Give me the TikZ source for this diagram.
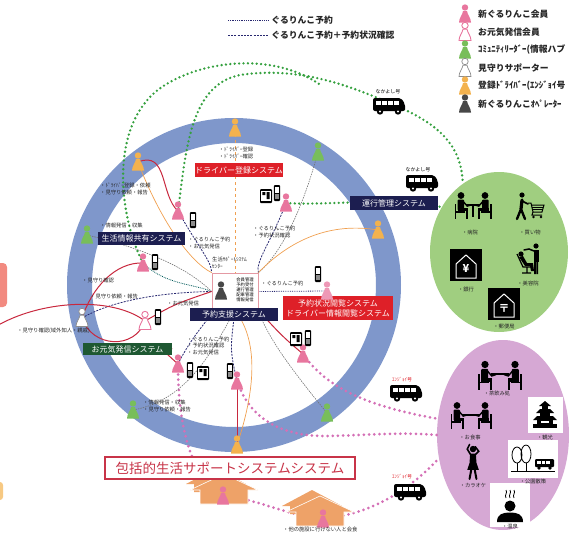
\documentclass[tikz,border=0pt]{standalone}
\usepackage{fontspec}
\setmainfont{Noto Sans CJK JP}
\usetikzlibrary{positioning,shapes.geometric}

\definecolor{ringblue}{RGB}{127,151,203}
\definecolor{hubgreen}{RGB}{120,190,90}
\definecolor{shopgreen}{RGB}{160,206,128}
\definecolor{funpurple}{RGB}{214,168,212}
\definecolor{memberpink}{RGB}{232,118,158}
\definecolor{driverorange}{RGB}{243,178,78}
\definecolor{housetone}{RGB}{238,162,104}
\definecolor{sysnavy}{RGB}{28,30,80}
\definecolor{sysred}{RGB}{222,32,40}
\definecolor{sysgreen}{RGB}{30,88,50}
\definecolor{linkred}{RGB}{200,40,62}
\definecolor{linknavy}{RGB}{40,40,112}
\definecolor{linkorange}{RGB}{240,160,80}
\definecolor{dotgreen}{RGB}{52,160,62}
\definecolor{dotpink}{RGB}{212,112,182}
\definecolor{boxrose}{RGB}{200,52,72}
\definecolor{tabsalmon}{RGB}{242,138,128}

\pgfdeclarelayer{back}
\pgfsetlayers{back,main}

\tikzset{
  % pawn shaped member figure, #1 picks its colours
  person/.pic={
    \path[#1] (0,-6.5) circle (3.2);
    \path[#1] (-2,-2.8) .. controls (-2.6,1) and (-6,4) .. (-6,8.5)
      -- (6,8.5) .. controls (6,4) and (2.6,1) .. (2,-2.8) -- cycle;
  },
  phone/.pic={
    \fill[black,rounded corners=1pt] (-3.2,-8) rectangle (3.2,8);
    \fill[white] (-2,-6) rectangle (2,-0.5);
    \fill[black!45] (-2,1) rectangle (2,6);
  },
  tablet/.pic={
    \fill[black,rounded corners=1pt] (-6,-7) rectangle (6,7);
    \fill[white] (-4.6,-5.5) rectangle (4.6,4.5);
    \fill[black] (-3.6,-4) rectangle (-0.6,-1) (0.6,-4) rectangle (3.6,3);
  },
  van/.pic={
    \fill[black,rounded corners=2pt] (-16,-7) -- (12,-7) -- (16,-1) -- (16,6) -- (-16,6) -- cycle;
    \foreach \wx in {-13,-7,-1,5}{\fill[white] (\wx,-4.5) rectangle ++(4.5,4);}
    \fill[black] (-9,6.5) circle (3.2) (9,6.5) circle (3.2);
    \fill[white] (-9,6.5) circle (1.2) (9,6.5) circle (1.2);
  },
  sitter/.pic={
    \fill (0,-10) circle (2.7);
    \fill[rounded corners=1pt] (-2.8,-6.8) rectangle (2.4,2);
    \fill (-2.8,0) rectangle (5.5,2.6);
    \fill (3.8,0.5) rectangle (5.5,9);
    \fill (-5.2,-3) rectangle (-3.8,9);
    \fill (-5.2,2.6) rectangle (3,3.8);
    \draw[line width=1.4pt,line cap=round] (1.5,-5.5) -- (5,-1.5) -- (8,-2.5);
  },
  shopper/.pic={
    \fill (-8,-12) circle (2.6);
    \draw[line width=3.2pt,line cap=round] (-8,-7) -- (-9,2);
    \draw[line width=2.4pt,line cap=round] (-9,2) -- (-13,12) (-9,2) -- (-5,12);
    \draw[line width=1.6pt,line cap=round] (-8,-6) -- (-2,-3);
    \draw[line width=1pt] (-2,-4) -- (1,-4) -- (3,5) -- (12,5) -- (14,-2) -- (1.5,-2);
    \draw[line width=.7pt] (2,0) -- (13,0) (2.5,2.5) -- (12.5,2.5);
    \draw[line width=1pt] (3,5) -- (2,8) -- (12,8);
    \fill (3.5,10) circle (1.4) (11,10) circle (1.4);
  },
  barber/.pic={
    \fill (-7,-5) circle (2.6);
    \fill (-9,-2) -- (-5,-3) -- (-1,4) -- (5,4) -- (6,12) -- (3,12) -- (2,7) -- (-3,7) -- cycle;
    \draw[line width=1.2pt] (-11,-5) -- (-5,8) -- (4,8) (-1,8) -- (-1,14) (-6,14) -- (3,14);
    \fill (8,-13) circle (2.6);
    \fill (5.5,-9) rectangle (10.5,3);
    \fill (6,3) rectangle (7.8,15) (8.4,3) rectangle (10.2,15);
    \draw[line width=1.5pt,line cap=round] (6,-8) -- (1,-10) -- (-4,-9);
  },
  signbox/.pic={
    \fill[black] (-16,-16) rectangle (16,16);
    \draw[white,line width=1pt] (-10,-1) -- (0,-10) -- (10,-1) -- (10,13) -- (-10,13) -- cycle;
  },
  dancer/.pic={
    \fill (0,-13) circle (2.8);
    \draw[line width=1.6pt,line cap=round] (-2,-8) -- (-5,-13) -- (-3,-17) (2,-8) -- (5,-11) -- (2,-15);
    \fill (-2.5,-9) -- (2.5,-9) -- (3,-1) -- (5,5) -- (-5,5) -- (-3,-1) -- cycle;
    \draw[line width=2pt,line cap=round] (-1.5,5) -- (-3,13) (1.5,5) -- (3,13);
  },
  castle/.pic={
    \fill (-12,10) rectangle (12,14);
    \fill (-8,6) rectangle (8,10);
    \fill (-12,6) -- (-8,2) -- (8,2) -- (12,6) -- cycle;
    \fill (-5,-1) rectangle (5,2);
    \fill (-9,-1) -- (-5,-5) -- (5,-5) -- (9,-1) -- cycle;
    \fill (-3,-8) rectangle (3,-5);
    \fill (-6,-8) -- (0,-13) -- (6,-8) -- cycle;
    \fill[white] (-4,7) rectangle (4,9);
  },
  park/.pic={
    \draw[line width=.8pt] (-16,-3) ellipse (5 and 8) (-7,-4) ellipse (5 and 9);
    \draw[line width=.9pt] (-16,5) -- (-16,13) (-7,5) -- (-7,13) (-22,13) -- (22,13);
    \fill[rounded corners=1pt] (2,1) rectangle (21,9);
    \foreach \wx in {4,8.5,13}{\fill[white] (\wx,2.5) rectangle ++(3.5,3);}
    \fill (6,10) circle (1.8) (17,10) circle (1.8);
  },
  bath/.pic={
    \fill (0,1) circle (5.5);
    \fill (-13,17) .. controls (-13,9) and (-7,7.5) .. (0,7.5) .. controls (7,7.5) and (13,9) .. (13,17) -- cycle;
    \draw[line width=.8pt] (-4,-7) .. controls (-6,-10) and (-2,-12) .. (-4,-15)
      (0,-7) .. controls (-2,-10) and (2,-12) .. (0,-15)
      (4,-7) .. controls (2,-10) and (6,-12) .. (4,-15);
  },
  % two roofs, one behind the other
  house/.pic={
    \fill[housetone] (-38,6) -- (-8,-10) -- (22,6) -- (-22,6) -- (-22,14) -- (-30,14) -- (-30,6) -- cycle;
    \fill[housetone,draw=white,line width=.6pt] (-34,12) -- (0,-4) -- (34,12) -- (24,12) -- (24,26) -- (-24,26) -- (-24,12) -- cycle;
  }
}

\begin{document}
\begin{tikzpicture}
        [%%%%%%%%%%%%%%%%%%%%%%%%%%%%%%
        x=1pt,y=-1pt,
        navybox/.style={fill=sysnavy,text=white,inner sep=0pt,font=\fontsize{8}{9}\selectfont},
        redbox/.style={fill=sysred,text=white,inner sep=0pt,align=center,font=\fontsize{8}{10}\selectfont},
        greenbox/.style={fill=sysgreen,text=white,inner sep=0pt,font=\fontsize{8}{9}\selectfont},
        tiny/.style={inner sep=0pt,align=left,anchor=west,text=black!85,font=\fontsize{5.3}{6.3}\selectfont},
        spot/.style={inner sep=0pt,text=black!85,font=\fontsize{5.3}{6.3}\selectfont},
        legendtext/.style={inner sep=0pt,anchor=west,text=black!85,font=\bfseries\fontsize{8.8}{10}\selectfont},
        vanlabel/.style={inner sep=0pt,font=\fontsize{5}{6}\selectfont},
        greendots/.style={dotgreen,line width=2.6pt,dash pattern=on 0pt off 4.4pt,line cap=round},
        pinkdots/.style={dotpink,line width=3pt,dash pattern=on 0pt off 5.2pt,line cap=round},
        rsv/.style={linknavy,line width=.8pt,densely dotted},
        rsvcheck/.style={linknavy,line width=.8pt,dash pattern=on 2pt off 1.2pt},
        hublink/.style={black!55,line width=.6pt,dash pattern=on 1.5pt off 1pt},
        drvlink/.style={linkorange,line width=.7pt},
        genkilink/.style={linkred,line width=1pt},
        newmem/.style={fill=memberpink},
        genki/.style={fill=white,draw=memberpink,line width=.9pt},
        hub/.style={fill=hubgreen},
        watch/.style={fill=white,draw=black!45,line width=.7pt},
        driver/.style={fill=driverorange},
        oper/.style={fill=black!72},
        ]%%%%%%%%%%%%%%%%%%%%%%%%%%%%%%
        \useasboundingbox (0,0) rectangle (571,533);

        % where the people stand
        \coordinate (drvTop) at (235,128);
        \coordinate (drvLeft) at (138,162);
        \coordinate (drvRight) at (378,230);
        \coordinate (drvBottom) at (237,445);
        \coordinate (hubTop) at (318,152);
        \coordinate (hubLeft) at (87,235);
        \coordinate (hubLowL) at (133,410);
        \coordinate (hubLowR) at (327,413);
        \coordinate (memA) at (178,211);
        \coordinate (memB) at (286,203);
        \coordinate (memC) at (143,263);
        \coordinate (memD) at (327,291);
        \coordinate (memE) at (178,364);
        \coordinate (memF) at (237,381);
        \coordinate (memG) at (303,354);
        \coordinate (genkiA) at (145,321);
        \coordinate (watchA) at (82,318);
        \coordinate (farLeft) at (-5,327);
        \coordinate (hmA) at (223,496);
        \coordinate (hmB) at (323,519);

        % system boxes
        \node[draw=boxrose!50,fill=white,line width=.8pt,minimum width=46,minimum height=37,inner sep=0pt] (cb) at (235,291.5) {};
        \node[navybox,minimum width=88,minimum height=14] (unko) at (394,203) {運行管理システム};
        \node[navybox,minimum width=87,minimum height=13] (joho) at (141.5,238.5) {生活情報共有システム};
        \node[navybox,minimum width=88,minimum height=13] (shien) at (234,314.5) {予約支援システム};
        \node[redbox,minimum width=88,minimum height=14] (toroku) at (239,170) {ドライバー登録システム};
        \node[redbox,minimum width=110,minimum height=24] (etsuran) at (338,308) {予約状況閲覧システム\\ドライバー情報閲覧システム};
        \node[greenbox,minimum width=89,minimum height=12] (genkiSys) at (127.5,349) {お元気発信システム};
        \node[draw=boxrose,line width=1.3pt,fill=white,text=boxrose,minimum width=250,minimum height=22,inner sep=0pt,
              font=\fontsize{13.5}{15}\selectfont] (hokatsu) at (230,468) {包括的生活サポートシステムシステム};

        \begin{pgfonlayer}{back}
          % ring of the district and the two outing areas
          \fill[ringblue,even odd rule] (234,285) circle (167) (234,285) circle (142);
          \node[ellipse,fill=shopgreen,minimum width=138,minimum height=160,inner sep=0pt] (shops) at (499,252) {};
          \node[ellipse,fill=funpurple,minimum width=132,minimum height=190,inner sep=0pt] (fun) at (503,435) {};
          \fill[tabsalmon,rounded corners=4pt] (-10,263) rectangle (7,307);
          \fill[driverorange!70,rounded corners=3pt] (-10,482) rectangle (3,500);

          % green dotted: trips to the shops
          \draw[greendots] (memC) .. controls (118,215) and (108,120) .. (165,85)
            .. controls (205,60) and (275,52) .. (322,86);
          \draw[greendots] (memA) .. controls (186,150) and (190,85) .. (240,75)
            .. controls (300,66) and (350,86) .. (392,104) .. controls (430,120) and (462,140) .. (shops.118);
          \draw[greendots] (memB) .. controls (330,206) and (400,196) .. (shops.142);

          % pink dotted: trips for fun
          \draw[pinkdots] (memE) .. controls (178,420) and (188,475) .. (hmA);
          \draw[pinkdots] (hmA) .. controls (255,498) and (285,515) .. (hmB);
          \draw[pinkdots] (hmB) .. controls (360,515) and (400,500) .. (fun.200);
          \draw[pinkdots] (memF) .. controls (252,425) and (290,437) .. (330,436) .. controls (370,435) and (400,432) .. (fun.180);
          \draw[pinkdots] (memG) .. controls (325,385) and (360,405) .. (fun.166);

          % bookings to the centre
          \draw[rsvcheck] (memA) .. controls (200,250) and (212,262) .. (cb.north west);
          \draw[rsvcheck] (memB) .. controls (272,240) and (255,262) .. (cb.north east);
          \draw[rsv,teal!70!black] (memC) .. controls (165,285) and (195,284) .. (cb.west);
          \draw[rsv] (memD) -- (cb.east);
          \draw[rsvcheck] (memE) .. controls (195,330) and (212,318) .. (cb.south west);
          \draw[rsvcheck] (memF) .. controls (230,350) .. (cb.south);
          \draw[rsvcheck] (watchA) .. controls (120,296) and (180,292) .. (cb.west);
          \draw[hublink] (hubTop) .. controls (305,200) and (285,250) .. (cb.north east);
          \draw[hublink] (hubLowR) .. controls (300,380) and (268,340) .. (cb.south east);
          \draw[hublink] (hubLowL) .. controls (190,400) and (215,345) .. (cb.south);
          \draw[hublink] (hubLeft) .. controls (150,250) and (190,270) .. (cb.west);

          % drivers
          \draw[drvlink,dashed] (drvTop) -- (cb.north);
          \draw[drvlink] (drvLeft) .. controls (160,220) and (190,262) .. (cb.north west);
          \draw[drvlink] (drvRight) .. controls (330,222) and (290,240) .. (cb.north east);
          \draw[drvlink] (drvBottom) .. controls (252,400) and (262,345) .. (cb.south);

          % genki messages and watching
          \draw[genkilink] (drvLeft) .. controls (168,150) and (160,195) .. (memA);
          \draw[genkilink] (watchA) .. controls (92,288) and (115,262) .. (memC);
          \draw[genkilink] (watchA) .. controls (92,348) and (135,350) .. (genkiA);
          \draw[genkilink] (farLeft) .. controls (40,300) and (112,296) .. (genkiA);
          \draw[genkilink] (genkiA) .. controls (175,304) .. (cb.west);
          \draw[genkilink] (memE) .. controls (160,348) and (150,338) .. (genkiSys.east);
          \draw[genkilink] (memG) .. controls (282,336) .. (cb.south east);
          \draw[genkilink] (memF) -- (drvBottom);

          % homes down the road
          \pic at (224,478) {house};
          \pic at (320,500) {house};
        \end{pgfonlayer}

        % legend
        \coordinate (legA) at (228,20);
        \coordinate (legAend) at (268,20);
        \coordinate (legB) at (228,35);
        \coordinate (legBend) at (268,35);
        \draw[rsv,line width=.9pt] (legA) -- (legAend) node[legendtext,right=3pt] {ぐるりんこ予約};
        \draw[rsvcheck,line width=.9pt] (legB) -- (legBend) node[legendtext,right=3pt] {ぐるりんこ予約＋予約状況確認};
        \foreach \kind/\what [count=\i] in {newmem/新ぐるりんこ会員, genki/お元気発信会員,
            hub/{ｺﾐｭﾆﾃｨﾘｰﾀﾞｰ(情報ハブ}, watch/見守りサポーター,
            driver/{登録ﾄﾞﾗｲﾊﾞｰ(ｴﾝｼﾞｮｲ号}, oper/新ぐるりんこｵﾍﾟﾚｰﾀｰ}{
          \pic at (465,-4+18*\i) {person=\kind};
          \node[legendtext] (leg\i) at (478,-4+18*\i) {\what};
        }

        % people
        \foreach \who in {drvTop,drvLeft,drvRight,drvBottom}{\pic at (\who) {person=driver};}
        \foreach \who in {hubTop,hubLeft,hubLowL,hubLowR}{\pic at (\who) {person=hub};}
        \foreach \who in {memA,memB,memC,memE,memF,memG,hmA,hmB}{\pic at (\who) {person=newmem};}
        \pic at (memD) {person={fill=memberpink!75}};
        \pic at (genkiA) {person=genki};
        \pic at (watchA) {person=watch};
        \pic at (221,291) {person=oper};

        % phones and tablets
        \foreach \p in {(193,220),(277,193),(155,262),(158,317),(318,274),(190,370),(230,371),(308,338)}{
          \pic at \p {phone};
        }
        \foreach \p in {(266,196),(203,373),(296,339)}{\pic at \p {tablet};}

        % centre desk
        \node[inner sep=0pt,align=center,font=\fontsize{4.3}{5}\selectfont] (desk) at (245,290)
          {会員管理\\予約受付\\運行管理\\配車管理\\情報発信};
        \node[tiny] (deskname) at (212,263) {生活ｻﾎﾟｰﾄｼｽﾃﾑ\\ｾﾝﾀｰ};

        % vans
        \pic at (389,105) {van};
        \node[vanlabel] (vanA) at (388,92) {なかよし号};
        \pic at (422,182) {van};
        \node[vanlabel] (vanB) at (418,170) {なかよし号};
        \pic at (406,392) {van};
        \node[vanlabel,text=sysred] (vanC) at (402,380) {ｴﾝｼﾞｮｲ号};
        \pic at (410,491) {van};
        \node[vanlabel,text=sysred] (vanD) at (402,477) {ｴﾝｼﾞｮｲ号};

        % small notes along the links
        \node[tiny,anchor=center] (n1) at (236,153) {・ﾄﾞﾗｲﾊﾞｰ登録\\・ﾄﾞﾗｲﾊﾞｰ確認};
        \node[tiny] (n2) at (100,189) {・ﾄﾞﾗｲﾊﾞｰ登録・依頼\\・見守り依頼・報告};
        \node[tiny] (n3) at (100,225) {・情報発信・収集};
        \node[tiny] (n4) at (188,243) {・ぐるりんこ予約\\・お元気発信};
        \node[tiny] (n5) at (253,232) {・ぐるりんこ予約\\・予約状況確認};
        \node[tiny] (n6) at (82,280) {・見守り確認};
        \node[tiny] (n7) at (90,297) {・見守り依頼・報告};
        \node[tiny] (n8) at (167,303) {・お元気発信};
        \node[tiny,anchor=east] (n9) at (90,331) {・見守り確認(域外知人・親戚)};
        \node[tiny] (n10) at (261,283) {・ぐるりんこ予約};
        \node[tiny] (n11) at (187,346) {・ぐるりんこ予約\\・予約状況確認\\・お元気発信};
        \node[tiny] (n12) at (143,406) {・情報発信・収集\\・見守り依頼・報告};
        \node[tiny] (n13) at (283,529) {・他の施設に行けない人と会食};

        % shops
        \pic[scale=1.25] at (461,208) {sitter};
        \pic[xscale=-1.25,yscale=1.25] at (485,208) {sitter};
        \fill (466,204) rectangle (480,206);
        \fill (472.3,206) rectangle (473.7,217);
        \pic at (530,207) {shopper};
        \pic at (466,265) {signbox};
        \node[text=white,inner sep=0pt,font=\bfseries\fontsize{11}{11}\selectfont] (yen) at (466,269) {¥};
        \pic at (528,259) {barber};
        \pic at (504,304) {signbox};
        \node[text=white,inner sep=0pt,font=\bfseries\fontsize{11}{11}\selectfont] (post) at (504,308) {〒};
        \node[spot] (s1) at (470,232) {・病院};
        \node[spot] (s2) at (530,232) {・買い物};
        \node[spot] (s3) at (466,289) {・銀行};
        \node[spot] (s4) at (528,283) {・美容院};
        \node[spot] (s5) at (504,327) {・郵便局};

        % places for fun
        \pic[scale=1.35] at (485,378) {sitter};
        \pic[xscale=-1.35,yscale=1.35] at (515,378) {sitter};
        \fill (491,372.5) rectangle (509,374.5);
        \pic[scale=1.25] at (457,418) {sitter};
        \pic[xscale=-1.25,yscale=1.25] at (485,418) {sitter};
        \fill (462,414) rectangle (480,416);
        \fill[white] (528,397) rectangle (563,433);
        \pic at (545,414) {castle};
        \pic[scale=1.15] at (473,464) {dancer};
        \fill[white] (508,440) rectangle (558,478);
        \pic at (533,458) {park};
        \fill[white] (490,483) rectangle (530,527);
        \pic at (510,505) {bath};
        \node[spot] (f1) at (497,393) {・茶飲み処};
        \node[spot] (f2) at (470,437) {・お食事};
        \node[spot] (f3) at (545,437) {・観光};
        \node[spot] (f4) at (473,486) {・カラオケ};
        \node[spot] (f5) at (533,481) {・公園散策};
        \node[spot] (f6) at (510,526) {・温泉};

      \end{tikzpicture}
\end{document}
